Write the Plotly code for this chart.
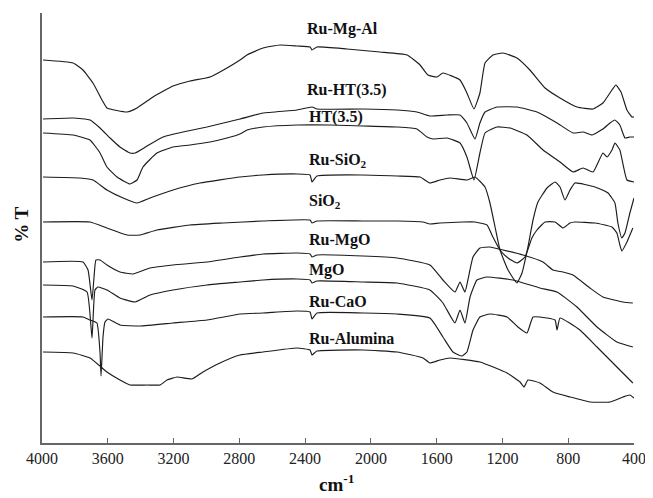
import plotly.graph_objects as go

# ---- data: wavenumber (cm-1) and %T (arbitrary offset units) ----
wn_ru_mg_al = [3994, 3811, 3751, 3690, 3635, 3605, 3483, 3422, 3325, 3203, 3100, 2978, 2875, 2796, 2753, 2656, 2553, 2449, 2370, 2358, 2328, 2145, 1945, 1780, 1701, 1653, 1598, 1562, 1458, 1416, 1373, 1337, 1306, 1258, 1197, 1112, 1033, 941, 850, 747, 649, 589, 534, 510, 479, 443, 412, 400]
t_ru_mg_al = [383, 380, 373, 360, 343, 335, 331, 335, 346, 357, 362, 366, 375, 383, 388, 395, 398, 397, 396, 393, 396, 394, 391, 388, 378, 368, 366, 370, 363, 350, 334, 350, 380, 388, 390, 385, 373, 355, 345, 336, 334, 340, 353, 358, 351, 333, 326, 326]

wn_ru_ht = [3994, 3811, 3708, 3647, 3586, 3526, 3465, 3434, 3361, 3264, 3143, 2997, 2796, 2656, 2449, 2358, 2328, 2048, 1841, 1720, 1641, 1537, 1458, 1416, 1367, 1337, 1306, 1233, 1112, 990, 868, 771, 710, 655, 589, 546, 516, 486, 455, 425, 400]
t_ru_ht = [324, 325, 323, 315, 305, 296, 290, 290, 297, 306, 311, 316, 324, 330, 333, 336, 334, 334, 333, 331, 327, 328, 328, 320, 304, 320, 331, 336, 336, 331, 320, 310, 311, 308, 314, 320, 323, 318, 305, 306, 306]

wn_ht = [3994, 3811, 3708, 3647, 3605, 3544, 3465, 3422, 3386, 3301, 3203, 3100, 2978, 2875, 2796, 2753, 2656, 2449, 2249, 2048, 1841, 1720, 1659, 1622, 1537, 1458, 1416, 1373, 1337, 1306, 1233, 1154, 1051, 953, 850, 771, 710, 649, 589, 564, 534, 516, 486, 443, 400]
t_ht = [310, 308, 303, 290, 276, 266, 259, 263, 276, 290, 296, 298, 301, 305, 309, 313, 316, 318, 318, 317, 316, 314, 306, 304, 305, 300, 286, 263, 290, 310, 316, 315, 308, 293, 281, 271, 275, 271, 290, 286, 293, 300, 293, 263, 261]

wn_ru_sio2 = [3994, 3769, 3690, 3605, 3507, 3422, 3343, 3203, 3039, 2796, 2656, 2449, 2370, 2358, 2328, 2048, 1841, 1701, 1641, 1580, 1519, 1416, 1367, 1306, 1276, 1245, 1215, 1166, 1112, 1081, 1045, 1014, 984, 929, 880, 850, 820, 789, 759, 637, 558, 516, 498, 474, 455, 425, 400]
t_ru_sio2 = [266, 265, 263, 253, 245, 240, 245, 253, 260, 266, 268, 269, 268, 261, 267, 268, 267, 266, 260, 263, 265, 263, 266, 256, 240, 216, 193, 173, 160, 170, 196, 223, 241, 255, 261, 256, 243, 253, 260, 256, 250, 240, 220, 205, 210, 230, 245]

wn_sio2 = [3994, 3708, 3605, 3483, 3404, 3301, 3100, 2899, 2656, 2370, 2358, 2328, 2048, 1841, 1683, 1641, 1580, 1440, 1367, 1294, 1258, 1215, 1166, 1112, 1063, 1021, 990, 941, 880, 832, 789, 759, 637, 534, 504, 486, 474, 443, 407]
t_sio2 = [221, 221, 215, 208, 208, 213, 218, 220, 222, 223, 220, 222, 222, 222, 221, 219, 220, 221, 221, 218, 206, 193, 185, 180, 186, 205, 213, 221, 221, 215, 220, 221, 220, 216, 210, 198, 192, 201, 215]

wn_ru_mgo = [3994, 3751, 3720, 3696, 3684, 3672, 3647, 3605, 3526, 3447, 3343, 3203, 2997, 2796, 2656, 2449, 2370, 2358, 2328, 2048, 1841, 1641, 1562, 1489, 1458, 1428, 1410, 1379, 1337, 1276, 1197, 1075, 953, 893, 832, 771, 668, 589, 467, 407]
t_ru_mgo = [181, 181, 173, 143, 165, 183, 183, 178, 171, 169, 175, 178, 181, 186, 189, 190, 189, 186, 188, 187, 185, 178, 163, 151, 161, 151, 163, 186, 195, 196, 193, 188, 181, 173, 171, 168, 155, 146, 141, 140]

wn_mgo = [3994, 3811, 3726, 3696, 3678, 3660, 3605, 3526, 3434, 3343, 3203, 2997, 2796, 2656, 2449, 2370, 2358, 2328, 2048, 1841, 1641, 1562, 1489, 1458, 1428, 1397, 1355, 1294, 1136, 972, 868, 747, 625, 504, 407]
t_mgo = [158, 157, 151, 105, 153, 156, 153, 145, 141, 148, 153, 158, 161, 163, 164, 163, 160, 162, 161, 160, 153, 140, 120, 133, 120, 146, 163, 166, 163, 155, 151, 136, 116, 101, 96]

wn_ru_cao = [3994, 3751, 3708, 3666, 3647, 3641, 3629, 3617, 3599, 3526, 3404, 3203, 2997, 2796, 2656, 2449, 2370, 2358, 2328, 2048, 1841, 1641, 1562, 1501, 1446, 1416, 1379, 1337, 1276, 1172, 1106, 1051, 1014, 929, 880, 868, 850, 729, 625, 504, 407]
t_ru_cao = [126, 126, 123, 120, 90, 67, 106, 121, 124, 118, 117, 120, 123, 129, 130, 132, 131, 124, 130, 130, 129, 125, 106, 91, 87, 91, 113, 126, 129, 126, 116, 110, 126, 125, 123, 113, 125, 113, 96, 76, 60]

wn_ru_alumina = [3994, 3811, 3708, 3605, 3526, 3465, 3361, 3282, 3240, 3179, 3088, 3021, 2918, 2796, 2656, 2449, 2370, 2358, 2328, 2048, 1841, 1683, 1641, 1580, 1519, 1337, 1172, 1093, 1069, 1045, 972, 893, 789, 668, 546, 467, 425, 400]
t_ru_alumina = [91, 90, 85, 71, 63, 58, 58, 58, 63, 66, 64, 71, 80, 88, 91, 95, 93, 88, 92, 93, 91, 85, 80, 83, 85, 81, 70, 61, 56, 63, 60, 51, 46, 41, 41, 46, 48, 45]

series = [
    ("Ru-Mg-Al", wn_ru_mg_al, t_ru_mg_al),
    ("Ru-HT(3.5)", wn_ru_ht, t_ru_ht),
    ("HT(3.5)", wn_ht, t_ht),
    ("Ru-SiO2", wn_ru_sio2, t_ru_sio2),
    ("SiO2", wn_sio2, t_sio2),
    ("Ru-MgO", wn_ru_mgo, t_ru_mgo),
    ("MgO", wn_mgo, t_mgo),
    ("Ru-CaO", wn_ru_cao, t_ru_cao),
    ("Ru-Alumina", wn_ru_alumina, t_ru_alumina),
]

label_texts = ["Ru-Mg-Al", "Ru-HT(3.5)", "HT(3.5)", "Ru-SiO<sub>2</sub>", "SiO<sub>2</sub>",
               "Ru-MgO", "MgO", "Ru-CaO", "Ru-Alumina"]
label_x = [2401, 2401, 2389, 2389, 2389, 2389, 2389, 2389, 2389]
label_y = [414, 353, 326, 283, 242, 203, 173, 142, 105]

x_ticks = [4000, 3600, 3200, 2800, 2400, 2000, 1600, 1200, 800, 400]

SERIF = "Liberation Serif, Times New Roman, serif"

fig = go.Figure()
for name, wn, t in series:
    fig.add_trace(go.Scatter(x=wn, y=t, mode="lines", name=name,
                             line=dict(color="#1c1c1c", width=1.15, shape="spline", smoothing=0.4),
                             showlegend=False, hoverinfo="skip"))

for txt, lx, ly in zip(label_texts, label_x, label_y):
    fig.add_annotation(x=lx, y=ly, text="<b>%s</b>" % txt, showarrow=False,
                       xanchor="left", yanchor="middle",
                       font=dict(family=SERIF, size=16, color="#111"))

fig.add_annotation(xref="paper", yref="paper", x=0.497, y=-0.093,
                   text="<b>cm<sup>-1</sup></b>", showarrow=False,
                   xanchor="center", yanchor="middle",
                   font=dict(family=SERIF, size=19, color="#111"))
fig.add_annotation(xref="paper", yref="paper", x=-0.034, y=0.507,
                   text="<b>% T</b>", showarrow=False, textangle=-90,
                   xanchor="center", yanchor="middle",
                   font=dict(family=SERIF, size=19, color="#111"))

# page body has an 8px default margin, so the figure is sized/offset to compensate
fig.update_layout(
    width=645, height=490,
    margin=dict(l=34, r=19, t=5, b=55),
    paper_bgcolor="white", plot_bgcolor="white",
    xaxis=dict(range=[4000, 400], tickvals=x_ticks, ticktext=[str(v) for v in x_ticks],
               showgrid=False, zeroline=False, showline=True, linecolor="#666", linewidth=1.5,
               ticks="inside", ticklen=5, tickcolor="#666", tickwidth=1.2,
               tickfont=dict(family=SERIF, size=16, color="#222")),
    yaxis=dict(range=[0, 430], showgrid=False, zeroline=False, showline=True,
               linecolor="#666", linewidth=1.5, showticklabels=False, ticks=""),
)

fig.write_html("out.html")
